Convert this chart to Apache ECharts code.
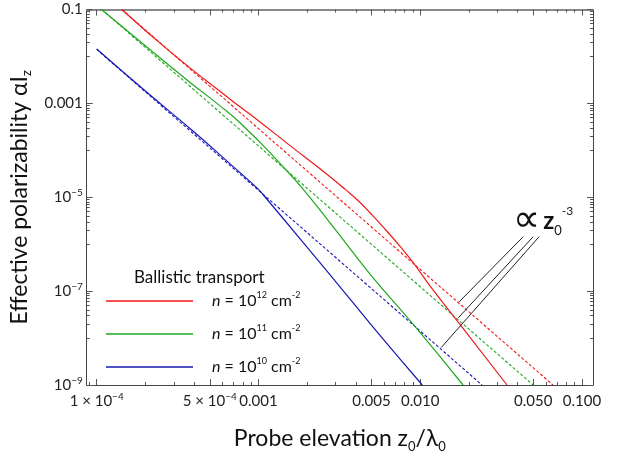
<!DOCTYPE html>
<html>
<head>
<meta charset="utf-8">
<script src="https://cdn.jsdelivr.net/npm/echarts@6/dist/echarts.min.js"></script>
<style>
  html, body { margin: 0; padding: 0; background: #fff; }
  #main { width: 630px; height: 458px; }
</style>
</head>
<body>
<div id="main"></div>
<script>
// values, pairs of [z0/lambda0, alpha/Iz]
const redSolid = [
  [1.43e-4, 0.1], [2.82e-4, 1.3e-2], [6.71e-4, 1.21e-3], [9.73e-4, 4.6e-4],
  [1.576e-3, 1.244e-4], [2.48e-3, 3.7e-5], [3.44e-3, 1.47e-5], [4.14e-3, 8.44e-6],
  [4.91e-3, 4.61e-6], [6.08e-3, 2.07e-6], [7.53e-3, 8.86e-7], [8.93e-3, 4.28e-7],
  [1.19e-2, 1.1e-7], [1.77e-2, 1.92e-8], [3.44e-2, 1e-9]
];
const greenSolid = [
  [1.07e-4, 0.1], [2.15e-4, 1.37e-2], [3.6e-4, 3.2e-3], [6.71e-4, 5.86e-4],
  [8.43e-4, 2.84e-4], [1.06e-3, 1.31e-4], [1.31e-3, 6.01e-5], [1.87e-3, 1.55e-5],
  [3.03e-3, 1.92e-6], [4.91e-3, 2.28e-7], [9.31e-3, 1.75e-8], [1.84e-2, 1e-9]
];
const blueSolid = [
  [1e-4, 1.44e-2], [2.0e-4, 1.83e-3], [3.97e-4, 2.51e-4], [6.71e-4, 5.07e-5],
  [9.86e-4, 1.55e-5], [1.07e-3, 1.13e-5], [1.82e-3, 1.27e-6], [3.6e-3, 7.48e-8],
  [5.66e-3, 1.13e-8], [1.03e-2, 1e-9]
];
// dashed z^-3 asymptotes
const redDashed = [[1.43e-4, 0.1], [1e-3, 2.9e-4], [1e-2, 2.9e-7], [6.62e-2, 1e-9]];
const greenDashed = [[1.075e-4, 0.1], [1e-3, 1.24e-4], [1e-2, 1.24e-7], [4.99e-2, 1e-9]];
const blueDashed = [[1e-4, 1.41e-2], [1e-3, 1.41e-5], [1e-2, 1.41e-8], [2.41e-2, 1e-9]];
// pointer lines of the "proportional to z0^-3" note
const noteLines = [
  [[0.0433, 1.44e-6], [0.0174, 5.9e-8]],
  [[0.0499, 1.44e-6], [0.0172, 2.7e-8]],
  [[0.0543, 1.44e-6], [0.0135, 6.3e-9]]
];

const xTicks = [1e-4, 5e-4, 1e-3, 5e-3, 1e-2, 5e-2, 1e-1];
const xTickLabels = ['{n|1 × 10}{e|−4}', '{n|5 × 10}{e|−4}', '{n|0.001}', '{n|0.005}', '{n|0.010}', '{n|0.050}', '{n|0.100}'];
const yTicks = [1e-1, 1e-3, 1e-5, 1e-7, 1e-9];
const yTickLabels = ['{n|0.1}', '{n|0.001}', '{n|10}{e|−5}', '{n|10}{e|−7}', '{n|10}{e|−9}'];
const nExp = ['12', '11', '10'];

// minor ticks
const xMinor = [9e-5];
[-4, -3, -2].forEach(function (k) {
  for (let m = 2; m <= 9; m++) if (m !== 5) xMinor.push(+(m * Math.pow(10, k)).toPrecision(3));
});
const yMinor = [];
[-2, -4, -6, -8].forEach(function (k) {
  for (let m = 1; m <= 9; m++) yMinor.push(+(m * Math.pow(10, k)).toPrecision(3));
});

function pick(ticks, labels) {
  return function (v) {
    let best = 0;
    for (let i = 1; i < ticks.length; i++) {
      if (Math.abs(Math.log10(ticks[i] / v)) < Math.abs(Math.log10(ticks[best] / v))) best = i;
    }
    return labels[best];
  };
}

const font = 'Lato, "Open Sans", sans-serif';
const tickText = {
  fontSize: 15, lineHeight: 19, fontFamily: font, color: '#222',
  rich: {
    n: { fontSize: 15, fontFamily: font, color: '#222', lineHeight: 19 },
    e: { fontSize: 10, fontFamily: font, color: '#222', verticalAlign: 'top', lineHeight: 10 }
  }
};
const frame = { show: true, onZero: false, lineStyle: { color: '#444', width: 1 } };

const XMIN = 8.68e-5, XMAX = 0.117, YMIN = 1e-9, YMAX = 0.1;

function xAxisOf(pos, major, labels) {
  return {
    type: 'log', logBase: 10, min: XMIN, max: XMAX, position: pos, gridIndex: 0,
    axisLine: major ? Object.assign({}, frame, pos === 'top' ? { lineStyle: { color: '#888', width: 2 } } : {}) : { show: false },
    axisTick: { show: true, inside: true, length: major ? 6 : 3, customValues: major ? xTicks : xMinor,
      lineStyle: { color: '#555' } },
    axisLabel: labels ? Object.assign({ show: true, customValues: xTicks, formatter: pick(xTicks, xTickLabels),
      margin: 7 }, tickText) : { show: false },
    splitLine: { show: false }, minorTick: { show: false }
  };
}
function yAxisOf(pos, major, labels) {
  return {
    type: 'log', logBase: 10, min: YMIN, max: YMAX, position: pos, gridIndex: 0,
    axisLine: major ? frame : { show: false },
    axisTick: { show: true, inside: true, length: major ? 6 : 3, customValues: major ? yTicks : yMinor,
      lineStyle: { color: '#555' } },
    axisLabel: labels ? Object.assign({ show: true, customValues: yTicks, formatter: pick(yTicks, yTickLabels),
      margin: 4 }, tickText) : { show: false },
    splitLine: { show: false }, minorTick: { show: false }
  };
}

const xAxes = [xAxisOf('bottom', true, true), xAxisOf('bottom', false, false),
  xAxisOf('top', true, false), xAxisOf('top', false, false)];
const yAxes = [yAxisOf('left', true, true), yAxisOf('left', false, false),
  yAxisOf('right', true, false), yAxisOf('right', false, false)];

const nameRich = {
  a: { fontSize: 23, fontFamily: font, color: '#111', lineHeight: 28 },
  sub: { fontSize: 13, fontFamily: font, color: '#111', verticalAlign: 'bottom', lineHeight: 13 }
};
xAxes[0].name = '{a|Probe elevation z}{sub|0}{a|/λ}{sub|0}';
xAxes[0].nameLocation = 'middle';
xAxes[0].nameGap = 40;
xAxes[0].nameTextStyle = { rich: nameRich };
yAxes[0].name = '{a|Effective polarizability αI}{sub|z}';
yAxes[0].nameLocation = 'middle';
yAxes[0].nameGap = 36;
yAxes[0].nameTextStyle = { rich: nameRich };

const red = '#f01818', green = '#1ea81e', blue = '#1717b5';
function solid(name, data, color) {
  return { name: name, type: 'line', data: data, showSymbol: false, smooth: 0.5,
    lineStyle: { color: color, width: 1.2 }, itemStyle: { color: color }, z: 3 };
}
function dashed(name, data, color) {
  return { name: name, type: 'line', data: data, showSymbol: false,
    lineStyle: { color: color, width: 1.1, type: [3, 2] }, itemStyle: { color: color }, z: 2 };
}

const legendText = {};
['n12', 'n11', 'n10'].forEach(function (k, i) {
  legendText[k] = '{i|n}{t| = 10}{s|' + nExp[i] + '}{t| cm}{s|-2}';
});

const chart = echarts.init(document.getElementById('main'));
chart.setOption({
  animation: false,
  backgroundColor: '#fff',
  textStyle: { fontFamily: font },
  grid: { left: 86, right: 37, top: 7, bottom: 71, containLabel: false },
  title: { text: 'Ballistic transport', left: 129, top: 264,
    textStyle: { fontSize: 17, fontWeight: 'normal', fontFamily: font, color: '#111' } },
  legend: {
    data: ['n12', 'n11', 'n10'], orient: 'vertical', left: 106, top: 291, padding: 0,
    itemWidth: 87, itemHeight: 1.6, itemGap: 15, icon: 'rect',
    formatter: function (name) { return legendText[name]; },
    textStyle: {
      padding: [0, 0, 0, 14],
      rich: {
        i: { fontSize: 16, fontStyle: 'italic', fontFamily: font, color: '#111', lineHeight: 20 },
        t: { fontSize: 16, fontFamily: font, color: '#111', lineHeight: 20 },
        s: { fontSize: 9, fontFamily: font, color: '#111', verticalAlign: 'top', lineHeight: 9 }
      }
    }
  },
  xAxis: xAxes,
  yAxis: yAxes,
  graphic: [{
    type: 'text', x: 513, y: 205, silent: true,
    style: {
      text: '{p|∝}{z|z}{sub|0}{sup|-3}',
      align: 'left', verticalAlign: 'top',
      rich: {
        p: { fontSize: 38, fontFamily: 'DejaVu Sans', fill: '#111', lineHeight: 32, padding: [0, 3, 0, 0] },
        z: { fontSize: 24, fontFamily: font, fill: '#111', lineHeight: 32, fontWeight: 'bold' },
        sub: { fontSize: 13, fontFamily: font, fill: '#111', verticalAlign: 'bottom', lineHeight: 13 },
        sup: { fontSize: 12, fontFamily: font, fill: '#111', verticalAlign: 'top', lineHeight: 12 }
      }
    }
  }],
  series: [
    solid('n12', redSolid, red), solid('n11', greenSolid, green), solid('n10', blueSolid, blue),
    dashed('d12', redDashed, red), dashed('d11', greenDashed, green), dashed('d10', blueDashed, blue),
    { name: 'note', type: 'lines', coordinateSystem: 'cartesian2d', silent: true,
      data: noteLines.map(function (c) { return { coords: c }; }),
      lineStyle: { color: '#222', width: 1, opacity: 1 }, z: 4 }
  ]
});
</script>
</body>
</html>
